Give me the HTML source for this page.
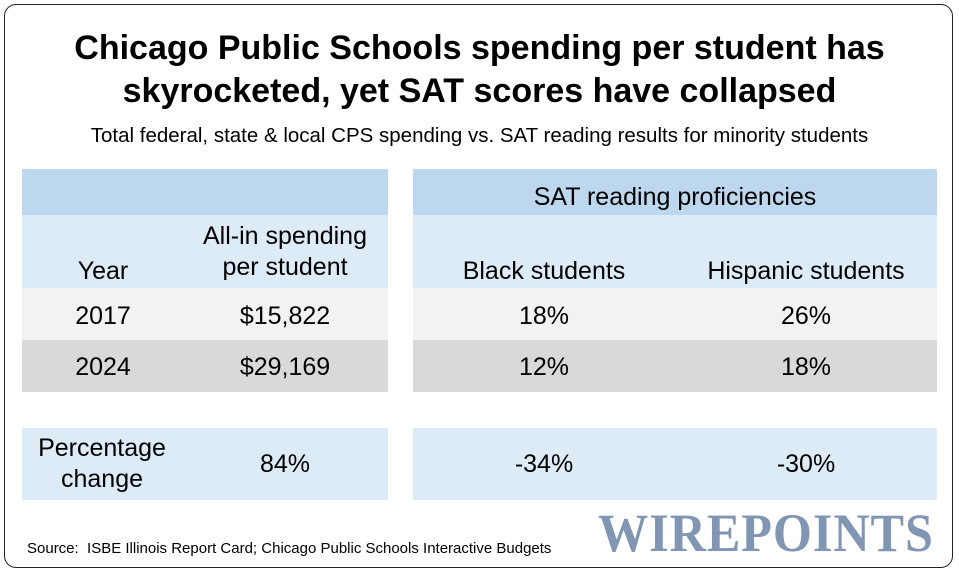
<!DOCTYPE html>
<html><head><style>
body{margin:0;width:959px;height:574px;background:#fff;font-family:"Liberation Sans",sans-serif;position:relative;overflow:hidden}
.frame{position:absolute;left:4px;top:4px;width:947px;height:562px;border:1.5px solid #222;border-radius:12px}
.t{position:absolute;left:0;width:959px;text-align:center;color:#000}
.b{position:absolute}
.c{position:absolute;text-align:center;font-size:25px;color:#000;line-height:31px}
</style></head><body>
<div class="frame"></div>
<div class="t" style="top:27px;font-size:34px;font-weight:bold;line-height:43px">Chicago Public Schools spending per student has<br>skyrocketed, yet SAT scores have collapsed</div>
<div class="t" style="top:124px;font-size:20.5px">Total federal, state &amp; local CPS spending vs. SAT reading results for minority students</div>

<div class="b" style="left:22px;top:169px;width:366px;height:46px;background:#bdd7ee"></div>
<div class="b" style="left:22px;top:215px;width:366px;height:73px;background:#ddebf7"></div>
<div class="b" style="left:22px;top:288px;width:366px;height:52px;background:#f2f2f2"></div>
<div class="b" style="left:22px;top:340px;width:366px;height:52px;background:#d9d9d9"></div>
<div class="b" style="left:413px;top:169px;width:524px;height:46px;background:#bdd7ee"></div>
<div class="b" style="left:413px;top:215px;width:524px;height:73px;background:#ddebf7"></div>
<div class="b" style="left:413px;top:288px;width:524px;height:52px;background:#f2f2f2"></div>
<div class="b" style="left:413px;top:340px;width:524px;height:52px;background:#d9d9d9"></div>
<div class="b" style="left:22px;top:428px;width:366px;height:72px;background:#ddebf7"></div>
<div class="b" style="left:413px;top:428px;width:524px;height:72px;background:#ddebf7"></div>

<div class="c" style="left:413px;width:524px;top:182px">SAT reading proficiencies</div>
<div class="c" style="left:43px;width:120px;top:256px">Year</div>
<div class="c" style="left:175px;width:220px;top:221px">All-in spending<br>per student</div>
<div class="c" style="left:414px;width:260px;top:256px">Black students</div>
<div class="c" style="left:676px;width:260px;top:256px">Hispanic students</div>

<div class="c" style="left:43px;width:120px;top:301px">2017</div>
<div class="c" style="left:175px;width:220px;top:301px">$15,822</div>
<div class="c" style="left:414px;width:260px;top:301px">18%</div>
<div class="c" style="left:676px;width:260px;top:301px">26%</div>
<div class="c" style="left:43px;width:120px;top:352px">2024</div>
<div class="c" style="left:175px;width:220px;top:352px">$29,169</div>
<div class="c" style="left:414px;width:260px;top:352px">12%</div>
<div class="c" style="left:676px;width:260px;top:352px">18%</div>

<div class="c" style="left:22px;width:160px;top:433px">Percentage<br>change</div>
<div class="c" style="left:175px;width:220px;top:449px">84%</div>
<div class="c" style="left:414px;width:260px;top:449px">-34%</div>
<div class="c" style="left:676px;width:260px;top:449px">-30%</div>

<div class="b" style="left:27px;top:540px;font-size:15px">Source:&nbsp; ISBE Illinois Report Card; Chicago Public Schools Interactive Budgets</div>
<div class="b" style="left:598px;top:506px;width:336px;font-family:'Liberation Serif',serif;font-weight:bold;font-size:54px;line-height:54px;color:#8096b3;letter-spacing:1px;transform:scaleX(0.93);transform-origin:left">WIREPOINTS</div>
</body></html>
